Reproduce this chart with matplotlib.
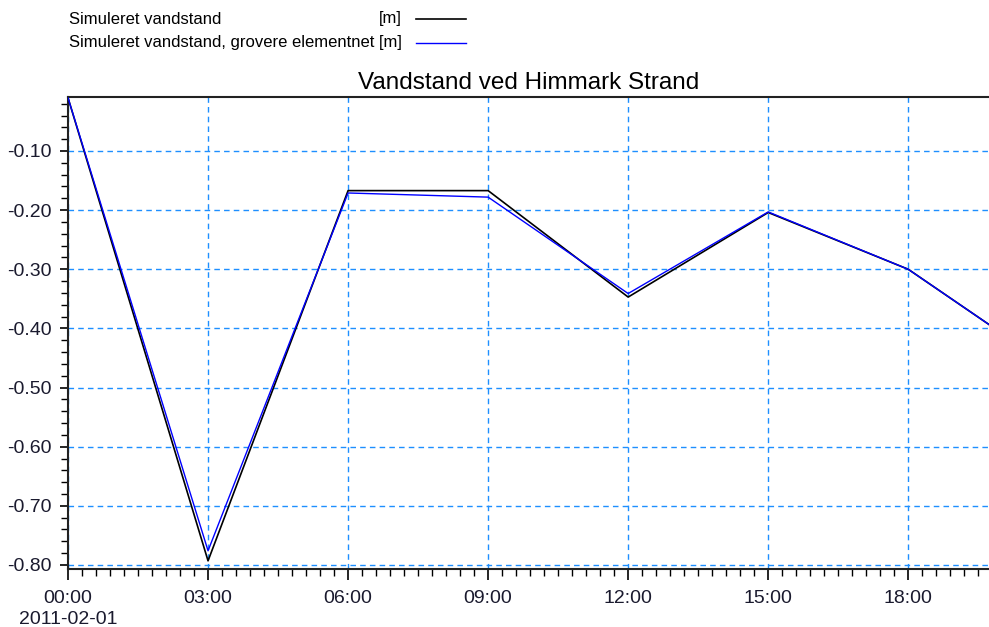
import matplotlib
matplotlib.use("Agg")
import matplotlib.pyplot as plt
from matplotlib.lines import Line2D
from matplotlib.ticker import MultipleLocator, FormatStrFormatter

plt.rcParams['font.family'] = ['Liberation Sans', 'DejaVu Sans']

# hours since 2011-02-01 00:00
hours = [0, 3, 6, 9, 12, 15, 18, 21]
fine = [-0.010, -0.793, -0.167, -0.167, -0.347, -0.204, -0.300, -0.462]
coarse = [-0.010, -0.776, -0.171, -0.178, -0.341, -0.203, -0.300, -0.462]
tick_hours = [0, 3, 6, 9, 12, 15, 18]
tick_labels = ["00:00\n2011-02-01", "03:00", "06:00", "09:00", "12:00", "15:00", "18:00"]

fig = plt.figure(figsize=(9.89, 6.27), dpi=100)
ax = fig.add_axes([68/989, 1 - 569/627, 1 - 68/989, (569 - 97)/627])

ax.plot(hours, fine, color="black", lw=1.2, zorder=3)
ax.plot(hours, coarse, color="#0000ff", lw=1.0, zorder=4)

ax.set_xlim(0, 19.73)
ax.set_ylim(-0.8068, -0.0087)

ax.set_xticks(tick_hours)
ax.set_xticklabels(tick_labels, linespacing=1.3)
ax.xaxis.set_minor_locator(MultipleLocator(0.3))
ax.yaxis.set_major_locator(MultipleLocator(0.1))
ax.yaxis.set_minor_locator(MultipleLocator(0.02))
ax.yaxis.set_major_formatter(FormatStrFormatter("%.2f"))

ax.tick_params(axis="both", which="major", direction="out", length=8, width=1.2,
               labelsize=14, colors="black", labelcolor="#1a1a2e", pad=7)
ax.tick_params(axis="both", which="minor", direction="out", length=5, width=1.0)
ax.tick_params(axis="y", which="major", length=6, pad=6)

ax.grid(True, which="major", color="#1e8fff", linestyle=(0, (4, 3)), lw=1.0)

for s in ["top", "left", "bottom"]:
    ax.spines[s].set_color("#222222")
    ax.spines[s].set_linewidth(1.5)
ax.spines["right"].set_visible(False)

ax.set_title("Vandstand ved Himmark Strand", fontsize=17.5, pad=6)

# legend block at top left
fig.text(69/989, 1 - 19/627, "Simuleret vandstand", fontsize=12, va="center")
fig.text(402/989, 1 - 19/627, "[m]", fontsize=12, va="center", ha="right")
fig.text(69/989, 1 - 43/627, "Simuleret vandstand, grovere elementnet [m]", fontsize=12, va="center")
fig.add_artist(Line2D([416/989, 466/989], [1 - 19/627] * 2, color="black", lw=1.2))
fig.add_artist(Line2D([416/989, 466/989], [1 - 43/627] * 2, color="#0000ff", lw=1.0))

fig.savefig("out.png", dpi=100)
